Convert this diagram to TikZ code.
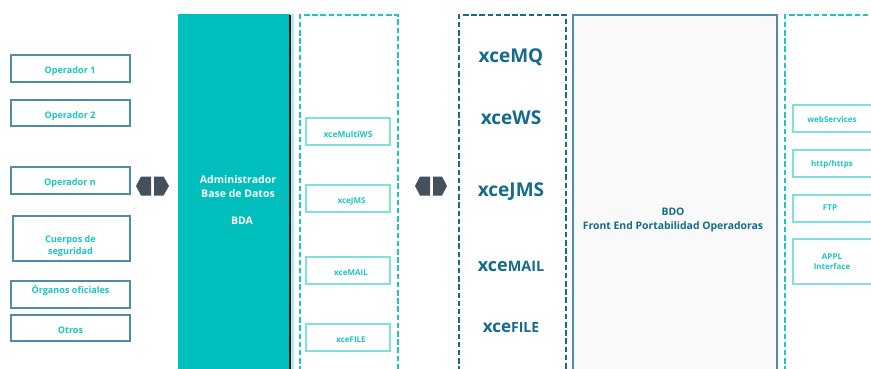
\documentclass[tikz,border=0pt]{standalone}
\usepackage{fontspec}
\setmainfont{Open Sans}
\definecolor{tealA}{HTML}{00BFBC}
\definecolor{tealB}{HTML}{1CC7C2}
\definecolor{tealL}{HTML}{7FE0DC}
\definecolor{blueA}{HTML}{4F8CA8}
\definecolor{blueD}{HTML}{146B8C}
\definecolor{greyD}{HTML}{44505C}
\definecolor{paleG}{HTML}{F9F9F9}
\tikzset{
  x=1pt,y=-1pt,
  txt/.style={font=\bfseries\fontsize{9.1}{11.6}\selectfont,align=center,inner sep=0pt},
  opbox/.style={draw=blueA,line width=1.5pt,fill=white},
  opt/.style={txt,text=tealB},
  inbox/.style={draw=tealL,line width=1.1pt,fill=white},
  int/.style={txt,text=tealB,font=\bfseries\fontsize{8}{10}\selectfont},
  tdash/.style={draw=tealB,line width=2pt,dash pattern=on 5.5pt off 2.7pt},
  bdash/.style={draw=blueD,line width=2pt,dash pattern=on 5.5pt off 2.7pt},
  big/.style={txt,text=blueD,font=\bfseries\fontsize{19}{22}\selectfont},
  bigb/.style={txt,text=blueD,font=\bfseries\fontsize{15}{22}\selectfont},
  arr/.style={fill=greyD,draw=none},
}
\begin{document}
\begin{tikzpicture}
\useasboundingbox (0,0) rectangle (871,369);
\clip (0,0) rectangle (871,369);
\fill[white] (0,0) rectangle (871,369);
% left boxes
\foreach \a/\b/\c/\d in {11/55/130/82,11/100/130/126,11/167/130/194,13/216/130/261,11/281/130/308,11/315/130/341}{
  \draw[opbox] (\a,\b) rectangle (\c,\d);
}
\node[opt] at (70,71) {Operador 1};
\node[opt] at (70,116) {Operador 2};
\node[opt] at (70,183) {Operador n};
\node[opt] at (70.5,246) {Cuerpos de\\seguridad};
\node[opt] at (70.5,290.5) {Órganos oficiales};
\node[opt] at (70.5,330.5) {Otros};
% arrows
\fill[arr] (136,186) -- (141,176.5) -- (151,176.5) -- (151,195.5) -- (141,195.5) -- cycle;
\fill[arr] (169,186) -- (163.5,176.5) -- (154,176.5) -- (154,195.5) -- (163.5,195.5) -- cycle;
\fill[arr] (415,186) -- (420,176.5) -- (430,176.5) -- (430,195.5) -- (420,195.5) -- cycle;
\fill[arr] (447,186) -- (442,176.5) -- (433,176.5) -- (433,195.5) -- (442,195.5) -- cycle;
% BDA
\fill[tealA] (178,14.5) rectangle (290,375);
\fill[tealL!60] (291,14.5) rectangle (298,375);
\draw[black!80!teal,line width=1.5pt] (290,15) -- (290,375);
\fill[white] (294,14.5) rectangle (299,375);
\node[txt,text=white,font=\bfseries\fontsize{10.5}{13.6}\selectfont] at (238,186.5) {Administrador\\Base de Datos};
\node[txt,text=white,font=\bfseries\fontsize{10.5}{12}\selectfont] at (242,220.5) {BDA};
% teal dashed
\draw[tdash] (300,380) -- (300,15) -- (398,15) -- (398,380);
\foreach \a/\b/\c/\d in {306/118/390/145,306/185/390/212,306/257/390/284,306/324/390/351}{
  \draw[inbox] (\a,\b) rectangle (\c,\d);
}
\node[int,font=\bfseries\fontsize{8.4}{10}\selectfont] at (348,134) {xceMultiWS};
\node[int] at (351.5,201) {xceJMS};
\node[int] at (351,273) {xceMAIL};
\node[int] at (351,340) {xceFILE};
% blue dashed
\draw[bdash] (459,380) -- (459,15) -- (566,15) -- (566,380);
\node[big] at (511,57) {xceMQ};
\node[big] at (511,117.5) {xceWS};
\node[big] at (511,191.5) {xceJMS};
\node[bigb] at (511,266) {\fontsize{18}{22}\selectfont xce\fontsize{14.4}{22}\selectfont MAIL};
\node[bigb] at (511,327.5) {\fontsize{17}{22}\selectfont xce\fontsize{14}{22}\selectfont FILE};
% BDO
\draw[blueA,line width=1.5pt,fill=paleG] (573,15) rectangle (777,380);
\node[txt,text=blueD,font=\bfseries\fontsize{10.4}{13.6}\selectfont] at (673,220) {BDO\\Front End Portabilidad Operadoras};
% right dashed
\draw[tdash] (785,380) -- (785,15) -- (880,15);
\foreach \a/\b/\c/\d in {793/105/880/132,793/150/880/177,793/195/880/222,793/239/880/284}{
  \draw[inbox] (\a,\b) rectangle (\c,\d);
}
\node[int] at (832,120) {webServices};
\node[int] at (832,164.5) {http/https};
\node[int] at (830,208) {FTP};
\node[int] at (832,261.5) {APPL\\Interface};
\end{tikzpicture}
\end{document}
